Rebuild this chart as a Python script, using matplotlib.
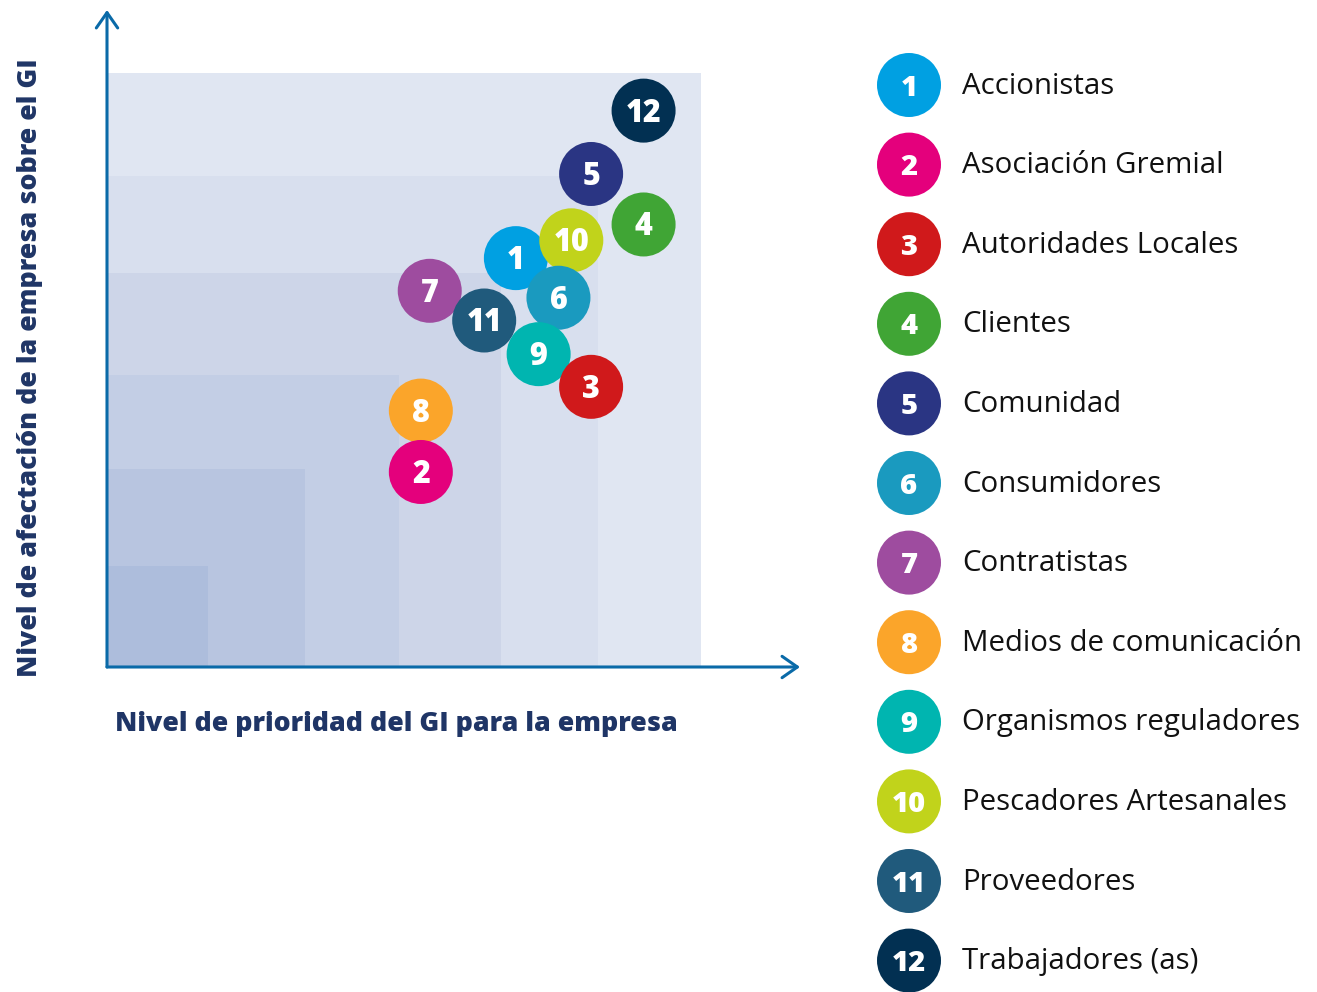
import matplotlib
matplotlib.use("Agg")
import matplotlib.pyplot as plt
from matplotlib.patches import Circle, Rectangle

plt.rcParams['font.family'] = ['Open Sans', 'DejaVu Sans']

# stakeholder groups (GI)
ids = [1, 2, 3, 4, 5, 6, 7, 8, 9, 10, 11, 12]
names = ["Accionistas", "Asociación Gremial", "Autoridades Locales", "Clientes",
         "Comunidad", "Consumidores", "Contratistas", "Medios de comunicación",
         "Organismos reguladores", "Pescadores Artesanales", "Proveedores",
         "Trabajadores (as)"]
colors = ["#00a0e2", "#e4007c", "#d0191b", "#40a535", "#2a3583", "#1a9abf",
          "#9e4c9f", "#fba52a", "#00b5b0", "#c1d31b", "#205a7c", "#023052"]
# priority (x) and affectation (y) levels
prioridad = [4.13, 3.17, 4.89, 5.42, 4.89, 4.56, 3.26, 3.17, 4.36, 4.69, 3.81, 5.42]
afectacion = [4.13, 1.97, 2.83, 4.47, 4.98, 3.73, 3.80, 2.59, 3.16, 4.31, 3.50, 5.62]
draw_order = [12, 5, 4, 7, 1, 10, 6, 11, 9, 3, 8, 2]

levels = [6.0, 4.96, 3.98, 2.95, 2.0, 1.02]
level_colors = ["#e0e6f2", "#d8dfee", "#cdd5e8", "#c3cee5", "#b8c5e0", "#adbddc"]

axis_col = "#0a6aa8"
label_col = "#1f3566"
heavy = 800

fig = plt.figure(figsize=(13.17, 9.92), dpi=100)

# main matrix
ax = fig.add_axes([107 / 1317, 1 - 667 / 992, 693 / 1317, 657 / 992])
ax.set_xlim(0, 7)
ax.set_ylim(0, 657 / 99)
ax.set_aspect("equal")
ax.axis("off")

for lv, c in zip(levels, level_colors):
    ax.add_patch(Rectangle((0, 0), lv, lv, facecolor=c, edgecolor="none", zorder=1))

for tip in [(1, 0), (0, 1)]:
    ax.annotate("", xy=tip, xytext=(0, 0), xycoords="axes fraction",
                arrowprops=dict(arrowstyle="->,head_length=0.5,head_width=0.35",
                                color=axis_col, lw=2.2, shrinkA=0, shrinkB=0,
                                mutation_scale=22), zorder=3)

r = 32 / 99
for k, gid in enumerate(draw_order):
    i = ids.index(gid)
    z = 5 + k
    ax.add_patch(Circle((prioridad[i], afectacion[i]), r, facecolor=colors[i],
                        edgecolor="none", zorder=z))
    ax.text(prioridad[i], afectacion[i] - 0.03, str(gid), color="white", fontsize=22,
            fontweight=heavy, ha="center", va="center", zorder=z)

fig.text(115 / 1317, 1 - 724 / 992, "Nivel de prioridad del GI para la empresa",
         color=label_col, fontsize=19.3, fontweight=heavy, ha="left", va="center")
fig.text(30 / 1317, 1 - 368 / 992, "Nivel de afectación de la empresa sobre el GI",
         color=label_col, fontsize=19.3, fontweight=heavy, ha="center", va="center",
         rotation=90)

# legend
lg = fig.add_axes([860 / 1317, 0, 457 / 1317, 1])
lg.set_xlim(0, 457)
lg.set_ylim(992, 0)
lg.set_aspect("equal")
lg.axis("off")
for i, gid in enumerate(ids):
    yc = 85 + i * 79.6
    lg.add_patch(Circle((49, yc), 32, facecolor=colors[i], edgecolor="none"))
    lg.text(49, yc + 3, str(gid), color="white", fontsize=21, fontweight=heavy,
            ha="center", va="center")
    lg.text(102, yc + 1, names[i], color="#111111", fontsize=21.2, ha="left", va="center")

fig.savefig("out.png", dpi=100)
